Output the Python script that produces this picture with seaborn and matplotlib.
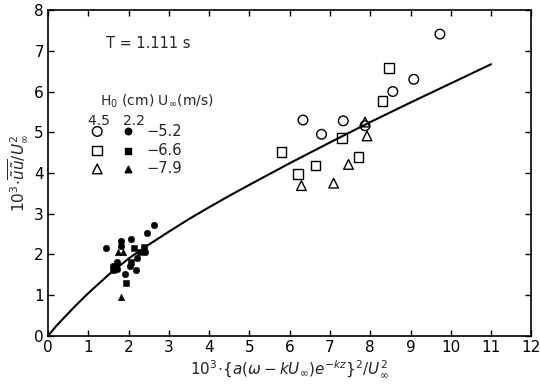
import matplotlib
matplotlib.use("Agg")
import matplotlib.pyplot as plt
import seaborn as sns
import pandas as pd

# ---- data ----
# Ho = 4.5 cm (open markers)
open_circle_x = [6.33, 6.79, 7.33, 7.87, 8.56, 9.08, 9.73]
open_circle_y = [5.30, 4.95, 5.28, 5.16, 6.00, 6.30, 7.41]
open_square_x = [5.80, 6.21, 6.64, 7.30, 7.71, 8.30, 8.47]
open_square_y = [4.52, 3.98, 4.18, 4.86, 4.40, 5.76, 6.58]
open_tri_x = [6.29, 7.09, 7.46, 7.92, 7.87]
open_tri_y = [3.69, 3.75, 4.21, 4.91, 5.25]

# Ho = 2.2 cm (filled markers)
filled_circle_x = [1.45, 1.80, 1.80, 2.06, 2.46, 2.64, 2.41, 2.22, 2.04, 2.18, 1.90, 1.60, 1.70, 1.72]
filled_circle_y = [2.15, 2.33, 2.20, 2.38, 2.52, 2.72, 2.07, 1.91, 1.72, 1.62, 1.52, 1.72, 1.65, 1.82]
filled_square_x = [2.14, 2.39, 2.06, 1.94, 1.62, 2.28]
filled_square_y = [2.15, 2.19, 1.82, 1.29, 1.62, 2.05]
filled_tri_x = [1.73, 1.86, 1.81, 1.68]
filled_tri_y = [2.07, 2.07, 0.96, 1.80]

# theoretical curve
curve_x = [0.0, 0.2, 0.4, 0.7, 1.0, 1.5, 2.0, 2.5, 3.0, 3.5, 4.0, 4.5, 5.0, 6.0, 7.0, 8.0, 9.0, 10.0, 11.0]
curve_y = [0.0, 0.24, 0.45, 0.76, 1.05, 1.50, 1.90, 2.24, 2.56, 2.87, 3.16, 3.44, 3.71, 4.24, 4.75, 5.25, 5.73, 6.20, 6.67]

legend_values = ["\u22125.2", "\u22126.6", "\u22127.9"]
x_ticks = list(range(0, 13))
y_ticks = list(range(0, 9))

sns.set_theme(style="ticks")
plt.rcParams["font.family"] = ["DejaVu Sans"]
plt.rcParams["mathtext.fontset"] = "dejavusans"

fig = plt.figure(figsize=(5.4, 3.87), dpi=100)
ax = fig.add_axes([0.089, 0.132, 0.895, 0.842])

sns.lineplot(x=curve_x, y=curve_y, color="black", linewidth=1.5,
             estimator=None, sort=False, ax=ax)

s_open = 48
s_fill = 22
sns.scatterplot(x=open_circle_x, y=open_circle_y, marker="o", s=s_open,
                facecolor="none", edgecolor="black", linewidth=1.0, ax=ax)
sns.scatterplot(x=open_square_x, y=open_square_y, marker="s", s=s_open,
                facecolor="none", edgecolor="black", linewidth=1.0, ax=ax)
sns.scatterplot(x=open_tri_x, y=open_tri_y, marker="^", s=s_open,
                facecolor="none", edgecolor="black", linewidth=1.0, ax=ax)
sns.scatterplot(x=filled_circle_x, y=filled_circle_y, marker="o", s=s_fill,
                color="black", edgecolor="black", ax=ax)
sns.scatterplot(x=filled_square_x, y=filled_square_y, marker="s", s=s_fill,
                color="black", edgecolor="black", ax=ax)
sns.scatterplot(x=filled_tri_x, y=filled_tri_y, marker="^", s=s_fill,
                color="black", edgecolor="black", ax=ax)

ax.set_xlim(0, 12)
ax.set_ylim(0, 8)
ax.set_xticks(x_ticks)
ax.set_yticks(y_ticks)
ax.tick_params(direction="in", length=4, width=1, top=True, right=True,
               labelsize=11, colors="black", pad=3)
for sp in ax.spines.values():
    sp.set_linewidth(1.2)
    sp.set_color("black")

ax.set_xlabel(r"$10^3\!\cdot\!\{a(\omega-kU_\infty)e^{-kz}\}^2/U_\infty^2$",
              fontsize=11, labelpad=2)
ax.set_ylabel(r"$10^3\!\cdot\!\overline{\tilde{u}\tilde{u}}/U_\infty^2$",
              fontsize=11, labelpad=4)

ax.text(1.45, 7.17, "T = 1.111 s", fontsize=10.5, va="center", ha="left")

# legend block
ax.text(1.28, 5.75, r"H$_0$ (cm) U$_\infty$(m/s)", fontsize=10, va="center", ha="left")
ax.text(1.0, 5.27, "4.5   2.2", fontsize=10, va="center", ha="left")
legend_rows_y = [5.02, 4.55, 4.10]
for yy, mk, lab in zip(legend_rows_y, ["o", "s", "^"], legend_values):
    ax.scatter([1.22], [yy], marker=mk, s=s_open, facecolor="none",
               edgecolor="black", linewidth=1.0)
    ax.scatter([1.98], [yy], marker=mk, s=s_fill, color="black")
    ax.text(2.45, yy, lab, fontsize=10.5, va="center", ha="left")

fig.savefig("out.png", dpi=100)
